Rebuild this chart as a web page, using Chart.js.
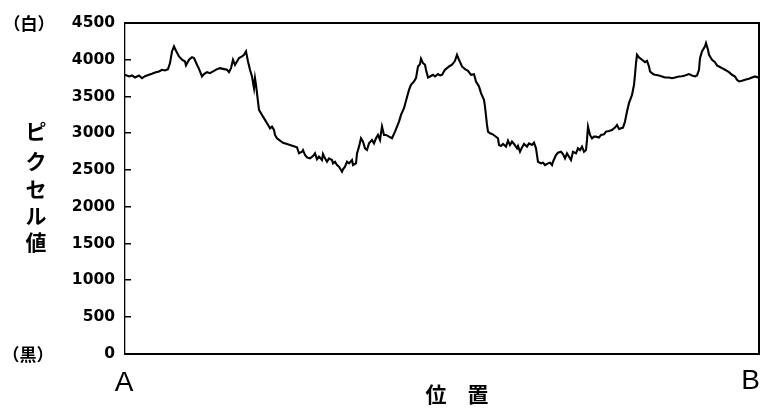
<!DOCTYPE html>
<html>
<head>
<meta charset="utf-8">
<script src="https://cdn.jsdelivr.net/npm/chart.js@4"></script>
<style>
  html, body { margin: 0; padding: 0; background: #fff; }
  #wrap { width: 768px; height: 415px; }
</style>
</head>
<body>
<div id="wrap"><canvas id="c" width="768" height="415"></canvas></div>
<script>
// Line profile between points A and B: position along the line and pixel value
const positions = [
  0, 4, 7, 10, 14, 17, 20, 24, 27, 30, 34, 37, 40, 43, 45, 47, 49, 51, 54, 57,
  60, 61, 64, 67, 69, 72, 74, 77, 79, 82, 85, 89, 92, 95, 99, 102, 104, 106, 108, 110,
  112, 114, 117, 119, 121, 123, 125, 127, 129, 130, 131, 133, 134, 137, 140, 144,
  145, 147, 149, 150, 152, 155, 158, 162, 165, 168, 172, 174, 177, 178, 180, 182, 185, 188, 190, 192,
  194, 197, 198, 200, 202, 204, 207, 208, 210, 212, 214, 217, 218, 220, 222, 224, 227, 228, 231, 232,
  234, 236, 238, 240, 242, 244, 247, 249, 251, 253, 255,
  257, 259, 261, 264, 267, 270, 272, 274, 276, 279, 281, 284, 286, 289, 291, 293, 295, 296, 298, 300,
  301, 303, 305, 308, 310, 313, 315, 317, 320, 322, 324, 327, 330, 332, 334, 337, 340, 343, 346, 349,
  351, 354, 356, 359, 360,
  362, 363, 365, 367, 370, 373, 374, 376, 378, 381, 383, 385, 387, 389, 392, 393, 395, 397, 399, 402,
  404, 407, 409, 411, 412, 413, 416, 418, 420, 423, 425, 427, 428, 431, 433, 436, 438, 440, 442, 444,
  446, 448, 451, 453, 455, 457, 459, 461, 462, 463, 465, 467, 469,
  471, 474, 476, 479, 481, 484, 487, 490, 492, 494, 498,
  500, 502, 504, 507, 509, 510, 511, 512, 514, 517, 520, 522, 524, 525, 528, 530, 534, 537, 540, 544,
  547, 550, 554, 557, 560, 564, 567, 570, 572, 574, 575, 577, 580, 581, 583, 584, 587, 590, 592, 594,
  597, 600, 602, 604, 607, 610, 612, 614, 617, 620, 624, 627, 630, 633, 635
];
const pixelValues = [
  3796, 3773, 3787, 3760, 3787, 3750, 3777, 3796, 3809, 3827, 3841, 3864, 3855, 3873, 3955, 4113, 4182, 4123, 4045, 4000,
  3977, 3923, 4000, 4036, 4023, 3932, 3877, 3773, 3805, 3832, 3818, 3850, 3873, 3886, 3873, 3864, 3832, 3886, 4000, 3932,
  3977, 4023, 4045, 4068, 4114, 3977, 3864, 3773, 3614, 3750, 3660, 3432, 3319, 3250, 3183, 3092,
  3068, 3091, 3046, 2978, 2932, 2900, 2873, 2855, 2841, 2828, 2809, 2728, 2750, 2773, 2705, 2673, 2660, 2691, 2728, 2646,
  2682, 2637, 2719, 2660, 2614, 2660, 2637, 2592, 2614, 2569, 2546, 2478, 2510, 2546, 2614, 2592, 2637, 2569, 2592, 2728,
  2819, 2932, 2887, 2796, 2773, 2864, 2910, 2864, 2932, 2978, 2910,
  3092, 2978, 2978, 2955, 2933, 3024, 3092, 3160, 3251, 3342, 3442, 3591, 3660, 3705, 3750, 3909, 3941, 4014, 3955, 3932,
  3864, 3759, 3773, 3796, 3773, 3805, 3787, 3796, 3864, 3886, 3909, 3932, 3986, 4068, 4000, 3909, 3873, 3850, 3796, 3805,
  3705, 3637, 3546, 3455, 3364,
  3114, 3023, 3000, 2991, 2964, 2932, 2841, 2828, 2855, 2819, 2900, 2841, 2887, 2855, 2796, 2828, 2750, 2809, 2855, 2819,
  2864, 2841, 2873, 2796, 2705, 2614, 2592, 2601, 2569, 2592, 2601, 2569, 2614, 2705, 2737, 2750, 2719, 2660, 2728, 2682,
  2637, 2750, 2728, 2796, 2773, 2819, 2750, 2773, 2910, 3091, 2978, 2932, 2955,
  2955, 2942, 2978, 2987, 3024, 3033, 3046, 3078, 3114, 3060, 3078,
  3160, 3296, 3410, 3523, 3660, 3796, 3955, 4068, 4032, 4000, 3968, 3986, 3909, 3841, 3805, 3796, 3787, 3773, 3759, 3759,
  3750, 3759, 3773, 3777, 3787, 3805, 3787, 3773, 3787, 3864, 4023, 4114, 4182, 4227, 4136, 4068, 4000, 3968, 3923, 3909,
  3886, 3864, 3850, 3832, 3796, 3773, 3728, 3705, 3714, 3728, 3741, 3759, 3773, 3759, 3750
];
const yTicks = [0, 500, 1000, 1500, 2000, 2500, 3000, 3500, 4000, 4500];
const yTitleChars = ['ピ', 'ク', 'セ', 'ル', '値'];
const xTitle = '位　置';
const endLabels = ['A', 'B'];
const topNote = '（白）';
const bottomNote = '（黒）';

const points = positions.map((p, i) => ({ x: p, y: pixelValues[i] }));

// Frame, inward ticks and the surrounding labels
const decorations = {
  id: 'decorations',
  afterDraw(chart) {
    const { ctx, chartArea: a, scales } = chart;
    const ys = scales.y, xs = scales.x;
    const L = Math.round(a.left), R = Math.round(a.right);
    const T = Math.round(a.top), B = Math.round(a.bottom);
    ctx.save();
    ctx.fillStyle = '#000';
    // frame: top, bottom and a heavier right side
    ctx.fillRect(L - 1, T - 1, R - L + 1, 2);
    ctx.fillRect(L - 1, B - 1, R - L + 1, 2);
    ctx.fillRect(R - 2, T - 1, 2, B - T + 1);
    // inward ticks on the value axis
    yTicks.forEach(v => {
      if (v === ys.min || v === ys.max) return;
      const py = Math.round(ys.getPixelForValue(v));
      ctx.fillRect(L, py - 1, 6, 1.5);
    });

    ctx.textAlign = 'center';
    ctx.textBaseline = 'middle';
    // white / black notes at the ends of the value axis
    ctx.font = 'bold 17px "Noto Sans CJK JP"';
    ctx.fillText(topNote, 29, ys.getPixelForValue(ys.max) + 1);
    ctx.fillText(bottomNote, 28, ys.getPixelForValue(ys.min) + 1);
    // vertical axis title
    ctx.font = 'bold 21px "Noto Sans CJK JP"';
    const yCenters = [131, 161, 189, 216, 242];
    yTitleChars.forEach((ch, i) => ctx.fillText(ch, 36, yCenters[i]));
    // endpoints A and B
    ctx.font = '28px "Liberation Sans", Arial, sans-serif';
    ctx.fillText(endLabels[0], xs.getPixelForValue(xs.min) - 1, B + 29);
    ctx.textAlign = 'right';
    ctx.fillText(endLabels[1], xs.getPixelForValue(xs.max), B + 27);
    // horizontal axis title
    ctx.textAlign = 'center';
    ctx.font = 'bold 21px "Noto Sans CJK JP"';
    ctx.fillText(xTitle, 457, B + 40);
    ctx.restore();
  }
};

new Chart(document.getElementById('c'), {
  type: 'line',
  data: {
    datasets: [{
      data: points,
      borderColor: '#000',
      borderWidth: 2.1,
      pointRadius: 0,
      tension: 0,
      fill: false
    }]
  },
  options: {
    responsive: false,
    animation: false,
    events: [],
    layout: { padding: { top: 23, right: 8, bottom: 61, left: 0 } },
    plugins: { legend: { display: false }, tooltip: { enabled: false } },
    scales: {
      x: {
        type: 'linear',
        min: 0,
        max: positions[positions.length - 1],
        display: false
      },
      y: {
        min: 0,
        max: 4500,
        afterBuildTicks: s => { s.ticks = yTicks.map(v => ({ value: v })); },
        afterFit: s => { s.width = 125; },
        grid: { display: false, drawTicks: false },
        border: { display: true, color: '#000', width: 1.3 },
        ticks: {
          padding: 10,
          color: '#000',
          callback: v => String(v),
          font: { family: '"DejaVu Sans"', size: 15.5, weight: 'bold' }
        }
      }
    }
  },
  plugins: [decorations]
});
</script>
</body>
</html>
